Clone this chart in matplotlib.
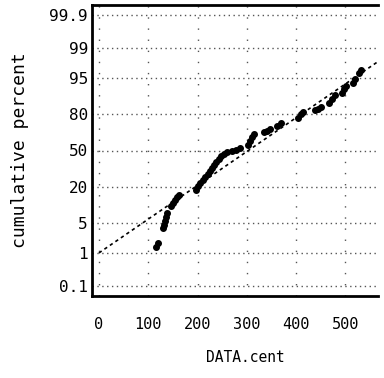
import matplotlib
matplotlib.use("Agg")
import matplotlib.pyplot as plt
from statistics import NormalDist

# Observed values and their cumulative percent (plotting positions)
values = [115, 120, 130, 132, 134, 136, 138, 146, 150, 154, 158, 162,
          197, 201, 205, 211, 215, 221, 225, 229, 233, 237, 243, 247,
          253, 259, 270, 278, 286, 302, 306, 310, 314, 334, 340, 347,
          361, 369, 403, 409, 414, 438, 444, 450, 466, 472, 478, 492,
          497, 501, 515, 519, 527, 531]
cum_percent = [1.4, 1.8, 3.8, 4.6, 5.5, 6.6, 7.9, 10.5, 11.8, 13.2, 14.7, 15.8,
               18.6, 21.2, 23.2, 25.4, 27.6, 29.9, 32.3, 34.8, 37.4, 40.0, 42.7, 45.3,
               47.0, 48.2, 49.5, 50.8, 52.0, 55.3, 58.9, 62.4, 64.8, 66.0, 67.4, 69.0,
               71.4, 73.7, 77.3, 79.9, 81.2, 82.2, 83.0, 84.0, 86.2, 88.1, 89.8, 90.6,
               92.0, 93.0, 93.9, 94.7, 96.2, 96.7]

# Fitted normal reference line
fit_mean = 303.0
fit_sd = 130.0
fit_x = [0, 566]

x_ticks = [0, 100, 200, 300, 400, 500]
y_tick_percents = [0.1, 1, 5, 20, 50, 80, 95, 99, 99.9]
y_tick_labels = ["0.1", "1", "5", "20", "50", "80", "95", "99", "99.9"]

nd = NormalDist()


def probit(p):
    return nd.inv_cdf(p / 100.0)


fig = plt.figure(figsize=(3.84, 3.78), dpi=100)
ax = fig.add_axes([92 / 384, 82 / 378, 286 / 384, 291 / 378])

mono = "DejaVu Sans Mono"

# grid
for p in y_tick_percents:
    ax.axhline(probit(p), color="#555555", lw=1.0, ls=(0, (1, 2.5)), zorder=1)
for xv in x_ticks:
    ax.axvline(xv, color="#555555", lw=1.0, ls=(0, (1, 7)), zorder=1)

# reference line
fit_z = [(xv - fit_mean) / fit_sd for xv in fit_x]
ax.plot(fit_x, fit_z, color="black", lw=1.2, ls=(0, (2, 2)), zorder=2)

# data
ax.plot(values, [probit(p) for p in cum_percent], ls="none", marker="o",
        ms=4, color="black", mec="black", zorder=3)

ax.set_xlim(-14, 566)
ax.set_ylim(-3.31, 3.31)

ax.set_xticks(x_ticks)
ax.set_xticklabels([str(v) for v in x_ticks], fontfamily=mono, fontsize=11)
ax.set_yticks([probit(p) for p in y_tick_percents])
ax.set_yticklabels(y_tick_labels, fontfamily=mono, fontsize=11.5)
ax.tick_params(axis="x", length=0, pad=15)
ax.tick_params(axis="y", length=0, pad=3)

for side in ("left", "top", "bottom"):
    ax.spines[side].set_linewidth(2)
    ax.spines[side].set_color("black")
ax.spines["right"].set_visible(False)

fig.text(245 / 384, 1 - 357 / 378, "DATA.cent", fontfamily=mono, fontsize=10.5,
         ha="center", va="center")
fig.text(20 / 384, 1 - 150 / 378, "cumulative percent", fontfamily=mono,
         fontsize=13, rotation=90, ha="center", va="center")

fig.savefig("out.png", dpi=100)
